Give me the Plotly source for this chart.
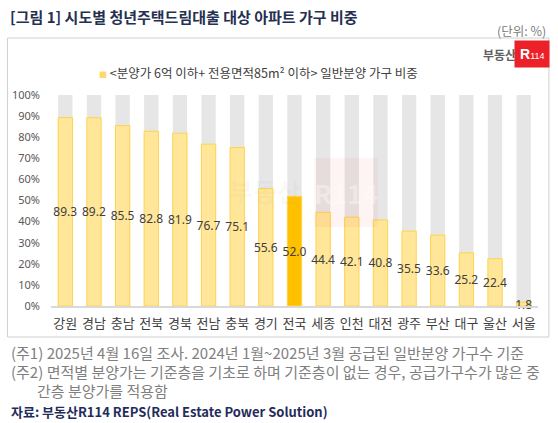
import plotly.graph_objects as go

# 시도별 청년주택드림대출 대상 아파트 가구 비중 (%)
regions = ['강원', '경남', '충남', '전북', '경북', '전남', '충북', '경기', '전국',
           '세종', '인천', '대전', '광주', '부산', '대구', '울산', '서울']
share = [89.3, 89.2, 85.5, 82.8, 81.9, 76.7, 75.1, 55.6, 52.0,
         44.4, 42.1, 40.8, 35.5, 33.6, 25.2, 22.4, 1.8]
full = [100] * len(regions)
y_ticks = [0, 10, 20, 30, 40, 50, 60, 70, 80, 90, 100]
y_tick_labels = [f'{t}%' for t in y_ticks]

W, H = 558, 423
L, R, T, B = 46, 20, 95, 117
PW, PH = W - L - R, H - T - B


def px(x):
    return (x - L) / PW


def py(y):
    return (H - B - y) / PH


FONT = 'Noto Sans CJK KR'
NUM_FONT = 'Noto Sans'
bar_colors = ['#FFC000' if r == '전국' else '#FFE699' for r in regions]

fig = go.Figure()
fig.add_trace(go.Bar(
    x=regions, y=full, marker_color='#E7E6E6', marker_line_width=0,
    hoverinfo='skip', showlegend=False,
))
fig.add_trace(go.Bar(
    x=regions, y=share, marker_color=bar_colors,
    marker_line=dict(color='#FFD34D', width=1),
    text=[f'{v:.1f}' for v in share], textposition='inside',
    insidetextanchor='middle', textangle=0,
    textfont=dict(size=12, color='#404040', family=NUM_FONT),
    cliponaxis=False, showlegend=False,
))

fig.update_layout(
    width=W, height=H, margin=dict(l=L, r=R, t=T, b=B),
    barmode='overlay', bargap=0.5,
    plot_bgcolor='white', paper_bgcolor='white',
    font=dict(family=FONT, color='#404040'),
    uniformtext=dict(minsize=12, mode='show'),
)
fig.update_xaxes(
    showline=True, linecolor='#D9D9D9', linewidth=1.5, showgrid=False,
    tickfont=dict(size=13, color='#404040'), ticks='', ticklabelstandoff=5,
)
fig.update_yaxes(
    range=[0, 100], tickvals=y_ticks, ticktext=y_tick_labels,
    showgrid=False, zeroline=False, ticklabelstandoff=10,
    tickfont=dict(size=11, color='#595959', family=NUM_FONT),
)

# chart frame
fig.add_shape(type='rect', xref='paper', yref='paper',
              x0=px(2), x1=px(549), y0=py(337), y1=py(38),
              line=dict(color='#D0D0D0', width=1), layer='below')

# faint watermark
fig.add_shape(type='rect', xref='paper', yref='paper',
              x0=px(312), x1=px(376), y0=py(227), y1=py(158),
              fillcolor='rgba(232,32,42,0.05)', line_width=0, layer='above')
fig.add_annotation(xref='paper', yref='paper', x=px(262), y=py(190),
                   text='<b>부동산</b>', showarrow=False,
                   font=dict(size=26, color='rgba(150,150,150,0.06)'))
fig.add_annotation(xref='paper', yref='paper', x=px(344), y=py(192),
                   text='<b>R114</b>', showarrow=False,
                   font=dict(size=26, color='rgba(255,255,255,0.35)'))

# title and unit
fig.add_annotation(xref='paper', yref='paper', x=px(3), y=py(16),
                   xanchor='left', yanchor='middle', showarrow=False,
                   text='<b>[그림 1] 시도별 청년주택드림대출 대상 아파트 가구 비중</b>',
                   font=dict(size=15, color='#253050'))
fig.add_annotation(xref='paper', yref='paper', x=px(548), y=py(30),
                   xanchor='right', yanchor='middle', showarrow=False,
                   text='(단위: %)', font=dict(size=12.5, color='#808080'))

# logo
fig.add_annotation(xref='paper', yref='paper', x=px(518), y=py(54),
                   xanchor='right', yanchor='middle', showarrow=False,
                   text='<b>부동산</b>', font=dict(size=12, color='#606060'))
fig.add_annotation(xref='paper', yref='paper', x=px(532), y=py(54),
                   xanchor='center', yanchor='middle', showarrow=False,
                   text="<b>R</b><span style='font-size:9px'>114</span>",
                   bgcolor='#EC2028', borderpad=5,
                   font=dict(size=14, color='white', family='Liberation Sans'))

# legend line
fig.add_annotation(xref='paper', yref='paper', x=px(92), y=py(72),
                   xanchor='left', yanchor='middle', showarrow=False,
                   text="<span style='color:#FFD966;font-size:8px'>■</span> "
                        "&lt;분양가 6억 이하+ 전용면적85m² 이하&gt; 일반분양 가구 비중",
                   font=dict(size=12.5, color='#404040'))

# notes
notes = [
    (4, 352, '(주1) 2025년 4월 16일 조사. 2024년 1월~2025년 3월 공급된 일반분양 가구수 기준'),
    (4, 371, '(주2) 면적별 분양가는 기준층을 기초로 하며 기준층이 없는 경우, 공급가구수가 많은 중'),
    (30, 390, '간층 분양가를 적용함'),
]
for x, y, t in notes:
    fig.add_annotation(xref='paper', yref='paper', x=px(x), y=py(y),
                       xanchor='left', yanchor='middle', showarrow=False,
                       text=t, font=dict(size=15, color='#7F7F7F'))
fig.add_annotation(xref='paper', yref='paper', x=px(4), y=py(411),
                   xanchor='left', yanchor='middle', showarrow=False,
                   text='<b>자료: 부동산R114 REPS(Real Estate Power Solution)</b>',
                   font=dict(size=13, color='#1F2D5A'))

fig.write_html('out.html', config={'displayModeBar': False},
               post_script="document.body.style.margin='0';"
                           "document.body.style.overflow='hidden';")
